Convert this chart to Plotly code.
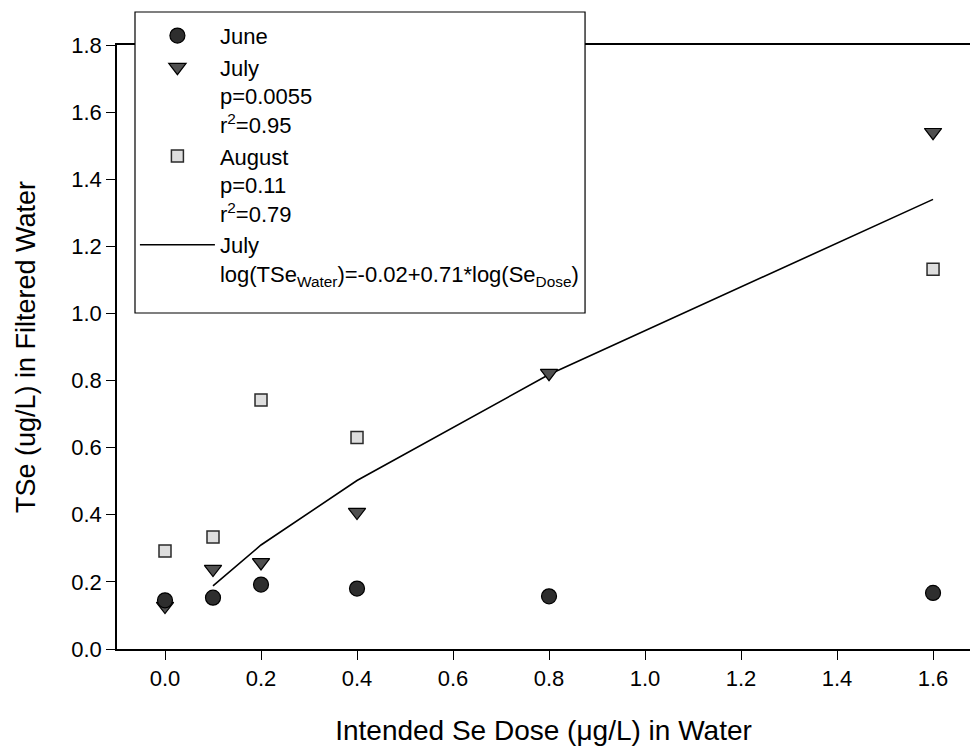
import plotly.graph_objects as go

# Data
dose = [0.0, 0.1, 0.2, 0.4, 0.8, 1.6]
june = [0.145, 0.153, 0.192, 0.180, 0.157, 0.167]
july = [0.128, 0.238, 0.258, 0.408, 0.822, 1.540]
aug_dose = [0.0, 0.1, 0.2, 0.4, 1.6]
august = [0.292, 0.334, 0.742, 0.630, 1.132]
fit_dose = [0.1, 0.2, 0.4, 0.8, 1.6]
fit_july = [0.188, 0.310, 0.502, 0.818, 1.340]

x_ticks = [0.0, 0.2, 0.4, 0.6, 0.8, 1.0, 1.2, 1.4, 1.6]
y_ticks = [0.0, 0.2, 0.4, 0.6, 0.8, 1.0, 1.2, 1.4, 1.6, 1.8]

FONT = "Arial, Liberation Sans, sans-serif"

fig = go.Figure()

fig.add_trace(go.Scatter(
    x=fit_dose, y=fit_july, mode="lines",
    name="July<br>log(TSe<sub>Water</sub>)=-0.02+0.71*log(Se<sub>Dose</sub>)",
    line=dict(color="black", width=1.6), legendrank=4))

fig.add_trace(go.Scatter(
    x=aug_dose, y=august, mode="markers",
    name="August<br>p=0.11<br>r<sup>2</sup>=0.79",
    marker=dict(symbol="square", size=12, color="#dedede",
                line=dict(color="#2a2a2a", width=1.5)), legendrank=3))

fig.add_trace(go.Scatter(
    x=dose, y=july, mode="markers",
    name="July<br>p=0.0055<br>r<sup>2</sup>=0.95",
    marker=dict(symbol="triangle-down", size=15, color="#505050",
                line=dict(color="black", width=1.2)), legendrank=2))

fig.add_trace(go.Scatter(
    x=dose, y=june, mode="markers", name="June",
    marker=dict(symbol="circle", size=15, color="#2e2e2e",
                line=dict(color="black", width=1.2)), legendrank=1))

# legend frame (white box with black border, drawn behind the legend text)
fig.add_shape(type="rect", xref="paper", yref="paper",
              x0=0.0211, x1=0.5487, y0=0.5563, y1=1.0546,
              line=dict(color="black", width=1.2), fillcolor="white",
              layer="above")

fig.update_layout(
    width=970, height=753,
    margin=dict(l=117, r=0, t=45, b=104),
    paper_bgcolor="white", plot_bgcolor="white",
    font=dict(family=FONT, color="black", size=22),
    showlegend=True,
    legend=dict(
        x=0.021, y=1.050, xanchor="left", yanchor="top",
        bgcolor="rgba(0,0,0,0)", borderwidth=0,
        font=dict(family=FONT, size=22, color="black"),
        itemwidth=75, valign="top", tracegroupgap=0,
        traceorder="normal"),
    xaxis=dict(
        range=[-0.1, 1.677], tickvals=x_ticks, tickformat=".1f",
        showline=True, linecolor="black", linewidth=1.5, mirror=True,
        ticks="outside", ticklen=9, tickwidth=1, tickcolor="black",
        showgrid=False, zeroline=False,
        tickfont=dict(family=FONT, size=22),
        title=dict(text="Intended Se Dose (μg/L) in Water",
                   font=dict(family=FONT, size=28), standoff=30)),
    yaxis=dict(
        range=[0, 1.8], tickvals=y_ticks, tickformat=".1f",
        showline=True, linecolor="black", linewidth=1.5,
        ticks="outside", ticklen=9, tickwidth=1, tickcolor="black",
        showgrid=False, zeroline=False,
        tickfont=dict(family=FONT, size=22),
        title=dict(text="TSe (ug/L) in Filtered Water",
                   font=dict(family=FONT, size=27), standoff=28)),
)

fig.write_html("out.html")
